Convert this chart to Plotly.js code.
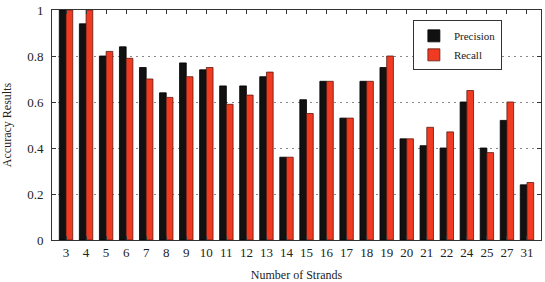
<!DOCTYPE html>
<html><head><meta charset="utf-8">
<script src="https://cdn.plot.ly/plotly-3.0.1.min.js"></script>
<style>html,body{margin:0;padding:0;background:#fff;}</style>
</head><body>
<div id="chart" style="width:545px;height:282px;"></div>
<script>
var categories = ["3","4","5","6","7","8","9","10","11","12","13","14","15","16","17","18","19","20","21","22","24","25","27","31"];
var precision = [1.00,0.94,0.80,0.84,0.75,0.64,0.77,0.74,0.67,0.67,0.71,0.36,0.61,0.69,0.53,0.69,0.75,0.44,0.41,0.40,0.60,0.40,0.52,0.24];
var recall    = [1.00,1.00,0.82,0.79,0.70,0.62,0.71,0.75,0.59,0.63,0.73,0.36,0.55,0.69,0.53,0.69,0.80,0.44,0.49,0.47,0.65,0.38,0.60,0.25];
var yTicks = [0,0.2,0.4,0.6,0.8,1];

var fam = "Liberation Serif";
var font = {family:fam, size:13, color:"#222"};
var data = [
  {type:"bar", name:"Precision", x:categories, y:precision, marker:{color:"#111111", line:{color:"#000", width:0.8}}},
  {type:"bar", name:"Recall", x:categories, y:recall, marker:{color:"#f03a22", line:{color:"#5a1a10", width:0.8}}}
];
var layout = {
  width:545, height:282,
  margin:{l:52, r:4, t:10, b:42},
  font:font,
  barmode:"group", bargap:0.33, bargroupgap:0,
  paper_bgcolor:"#fff", plot_bgcolor:"#fff",
  showlegend:true,
  legend:{x:0.738, y:0.955, xanchor:"left", yanchor:"top", bgcolor:"#fff", bordercolor:"#333", borderwidth:1,
          font:{family:fam, size:11, color:"#222"}, tracegroupgap:0, itemwidth:30},
  xaxis:{type:"category", range:[-0.7, 23.7], showline:true, linecolor:"#333", linewidth:1, mirror:"ticks", ticks:"inside",
         ticklen:4, tickcolor:"#333", showgrid:false, tickfont:font,
         title:{text:"Number of Strands", font:{family:fam, size:12, color:"#222"}, standoff:16}},
  yaxis:{range:[0,1], tickvals:yTicks, showline:true, linecolor:"#333", linewidth:1, mirror:"ticks", ticks:"inside",
         ticklen:4, tickcolor:"#333", showgrid:true, gridcolor:"#888", griddash:"2px,4px", gridwidth:1, zeroline:false,
         tickfont:font, ticklabelstandoff:5,
         title:{text:"Accuracy Results", font:{family:fam, size:12, color:"#222"}, standoff:16}}
};
Plotly.newPlot("chart", data, layout, {staticPlot:true, displayModeBar:false});
</script>
</body></html>
